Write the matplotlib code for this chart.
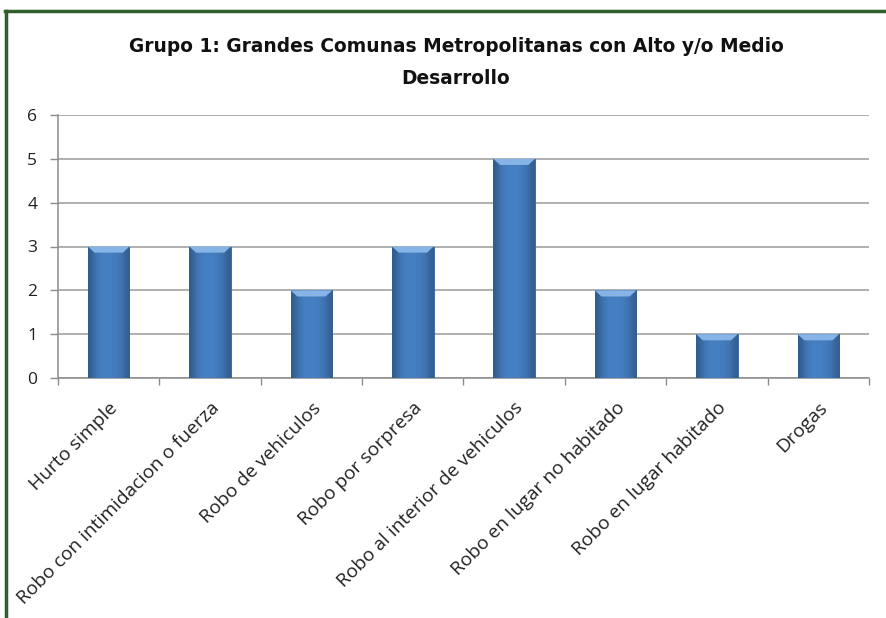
import matplotlib
matplotlib.use("Agg")
import matplotlib.pyplot as plt
from matplotlib.lines import Line2D
from matplotlib.transforms import ScaledTranslation
import numpy as np

categories = [
    "Hurto simple",
    "Robo con intimidacion o fuerza",
    "Robo de vehiculos",
    "Robo por sorpresa",
    "Robo al interior de vehiculos",
    "Robo en lugar no habitado",
    "Robo en lugar habitado",
    "Drogas",
]
values = [3, 3, 2, 3, 5, 2, 1, 1]
y_ticks = [0, 1, 2, 3, 4, 5, 6]
title = "Grupo 1: Grandes Comunas Metropolitanas con Alto y/o Medio\nDesarrollo"

W, H = 887, 618
fig = plt.figure(figsize=(W / 100, H / 100), dpi=100)
fig.patch.set_facecolor("white")

# axes placed to match the reference plot area
ax = fig.add_axes([58 / W, 1 - 378 / H, (869 - 58) / W, (378 - 115) / H])

x = np.arange(len(categories))
bars = ax.bar(x, values, width=0.41, color="#3D74B8", edgecolor="#33629E",
              linewidth=0.6, zorder=3)

# horizontal shading on each bar (slightly darker edges, lighter middle)
shade = np.array([0.72, 0.88, 0.97, 1.0, 1.0, 0.98, 0.94, 0.87, 0.74])
cmap_img = np.zeros((1, len(shade), 3))
base = np.array([0x46, 0x80, 0xC4]) / 255
for i, s in enumerate(shade):
    cmap_img[0, i] = base * s
for bar in bars:
    bx, bw, bh = bar.get_x(), bar.get_width(), bar.get_height()
    im = ax.imshow(cmap_img, extent=[bx, bx + bw, 0, bh], aspect="auto",
                   interpolation="bicubic", zorder=3.5)
    im.set_clip_path(bar)
    # light bevel at the top
    cap = 0.14
    ax.fill([bx, bx + bw, bx + bw * 0.84, bx + bw * 0.16],
            [bh, bh, bh - cap, bh - cap], color="#86B4E6", lw=0, zorder=4)

ax.set_xlim(-0.5, len(categories) - 0.5)
ax.set_ylim(0, 6)
ax.set_yticks(y_ticks)
ax.set_yticklabels([str(v) for v in y_ticks], fontsize=12.5, family="Open Sans",
                   color="#222222")
ax.grid(axis="y", color="#9A9A9A", linewidth=1.1, zorder=0)
ax.set_axisbelow(True)

ax.set_xticks(np.arange(len(categories) + 1) - 0.5, minor=False)
ax.set_xticklabels([])
ax.set_xticks(x, minor=True)
ax.set_xticklabels(categories, minor=True, rotation=45, ha="right",
                   rotation_mode="anchor", fontsize=13.8, family="Open Sans",
                   color="#222222")
# nudge the rotated labels a little to the left
shift = ScaledTranslation(-4 / 100, 0, fig.dpi_scale_trans)
for lbl in ax.get_xticklabels(minor=True):
    lbl.set_transform(lbl.get_transform() + shift)
ax.tick_params(axis="x", which="minor", length=0, pad=15)
ax.tick_params(axis="x", which="major", length=5, color="#8C8C8C", width=1)
ax.tick_params(axis="y", length=6, color="#8C8C8C", width=1, pad=9)

for side in ["top", "right"]:
    ax.spines[side].set_visible(False)
for side in ["left", "bottom"]:
    ax.spines[side].set_color("#8C8C8C")
    ax.spines[side].set_linewidth(1.1)

fig.text(456 / W, 1 - 62.5 / H, title, ha="center", va="center",
         fontsize=13.4, fontweight="bold", family="DejaVu Sans",
         linespacing=1.8, color="#111111")

# dark green frame (top and left edges visible in the reference)
green = "#2F5F2B"
fig.add_artist(Line2D([5 / W, 1], [1 - 10.5 / H] * 2, transform=fig.transFigure,
                      color=green, linewidth=2.5))
fig.add_artist(Line2D([6 / W] * 2, [0, 1 - 10.5 / H], transform=fig.transFigure,
                      color=green, linewidth=2.5))

fig.savefig("out.png", dpi=100)
